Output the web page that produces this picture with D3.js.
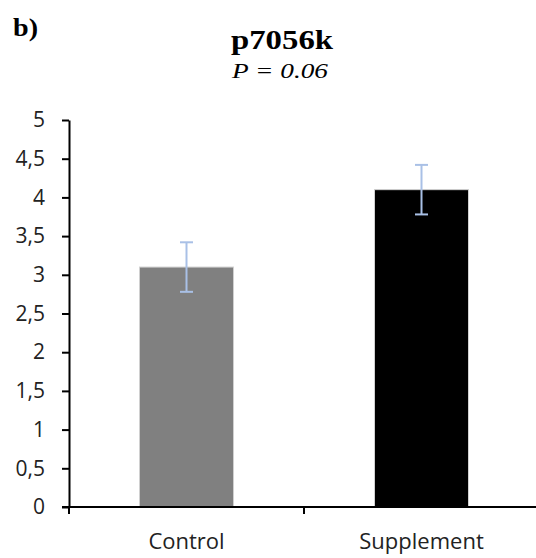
<!DOCTYPE html>
<html>
<head>
<meta charset="utf-8">
<script src="https://cdn.jsdelivr.net/npm/d3@7"></script>
<style>
  body { margin: 0; background: #fff; }
  svg { display: block; }
</style>
</head>
<body>
<svg id="chart"></svg>
<script>
// data
const categories = ["Control", "Supplement"];
const means = [3.1, 4.1];
const errors = [0.32, 0.32];
const barColors = ["#808080", "#000000"];
const yTicks = [0, 0.5, 1, 1.5, 2, 2.5, 3, 3.5, 4, 4.5, 5];

const width = 536, height = 558;
const margin = { top: 120, right: -3, bottom: 51, left: 69 };

const svg = d3.select("#chart")
    .attr("width", width)
    .attr("height", height);

svg.selectAll("*").remove();

const x = d3.scaleBand()
    .domain(categories)
    .range([margin.left, width - margin.right])
    .paddingInner(0.6)
    .paddingOuter(0.3);

const y = d3.scaleLinear()
    .domain([0, 5])
    .range([height - margin.bottom, margin.top]);

const serif = "Liberation Serif, Times New Roman, serif";
const sans = "Open Sans, Calibri, sans-serif";

// panel letter and titles (the original is a bit stretched sideways)
svg.append("text")
    .attr("x", 13).attr("y", 36)
    .attr("font-family", serif)
    .attr("font-weight", "bold")
    .attr("font-size", 25)
    .attr("textLength", 25)
    .attr("lengthAdjust", "spacingAndGlyphs")
    .text("b)");

svg.append("text")
    .attr("x", 231).attr("y", 49)
    .attr("font-family", serif)
    .attr("font-weight", "bold")
    .attr("font-size", 28)
    .attr("textLength", 102)
    .attr("lengthAdjust", "spacingAndGlyphs")
    .text("p7056k");

svg.append("text")
    .attr("x", 232).attr("y", 78)
    .attr("font-family", serif)
    .attr("font-style", "italic")
    .attr("font-size", 22)
    .attr("textLength", 96)
    .attr("lengthAdjust", "spacingAndGlyphs")
    .text("P = 0.06");

// bars
svg.selectAll("rect.bar")
    .data(categories)
    .enter()
    .append("rect")
    .attr("class", "bar")
    .attr("x", d => x(d))
    .attr("y", (d, i) => y(means[i]))
    .attr("width", x.bandwidth())
    .attr("height", (d, i) => y(0) - y(means[i]))
    .attr("fill", (d, i) => barColors[i])
    .attr("stroke", "#d0d0d0")
    .attr("stroke-width", 1);

// error bars
const errG = svg.append("g")
    .attr("stroke", "#a9c0e6")
    .attr("stroke-width", 2);

categories.forEach((c, i) => {
    const cx = x(c) + x.bandwidth() / 2;
    const top = y(means[i] + errors[i]);
    const bot = y(means[i] - errors[i]);
    errG.append("line").attr("x1", cx).attr("x2", cx).attr("y1", top).attr("y2", bot);
    errG.append("line").attr("x1", cx - 6.5).attr("x2", cx + 6.5).attr("y1", top).attr("y2", top);
    errG.append("line").attr("x1", cx - 6.5).attr("x2", cx + 6.5).attr("y1", bot).attr("y2", bot);
});

// y axis
const yAxis = svg.append("g")
    .attr("transform", `translate(${margin.left},0)`)
    .call(d3.axisLeft(y)
        .tickValues(yTicks)
        .tickSize(7)
        .tickSizeOuter(0)
        .tickPadding(17)
        .tickFormat(d => String(d).replace(".", ",")));

yAxis.select(".domain").attr("stroke", "#000").attr("stroke-width", 2);
yAxis.selectAll(".tick line").attr("stroke", "#000").attr("stroke-width", 2);
yAxis.selectAll(".tick text")
    .attr("font-family", sans)
    .attr("font-size", 21)
    .attr("fill", "#222");

// x axis
const xAxis = svg.append("g")
    .attr("transform", `translate(0,${y(0)})`);

xAxis.append("line")
    .attr("x1", margin.left - 7).attr("x2", width)
    .attr("stroke", "#000").attr("stroke-width", 2);

// divider tick between categories
const mid = (x(categories[0]) + x.bandwidth() + x(categories[1])) / 2;
xAxis.append("line")
    .attr("x1", mid).attr("x2", mid)
    .attr("y1", 0).attr("y2", 7)
    .attr("stroke", "#000").attr("stroke-width", 2);
xAxis.append("line")
    .attr("x1", margin.left).attr("x2", margin.left)
    .attr("y1", 0).attr("y2", 7)
    .attr("stroke", "#000").attr("stroke-width", 2);

xAxis.selectAll("text.cat")
    .data(categories)
    .enter()
    .append("text")
    .attr("class", "cat")
    .attr("x", d => x(d) + x.bandwidth() / 2)
    .attr("y", 42)
    .attr("text-anchor", "middle")
    .attr("font-family", sans)
    .attr("font-size", 22)
    .attr("fill", "#222")
    .text(d => d);
</script>
</body>
</html>
